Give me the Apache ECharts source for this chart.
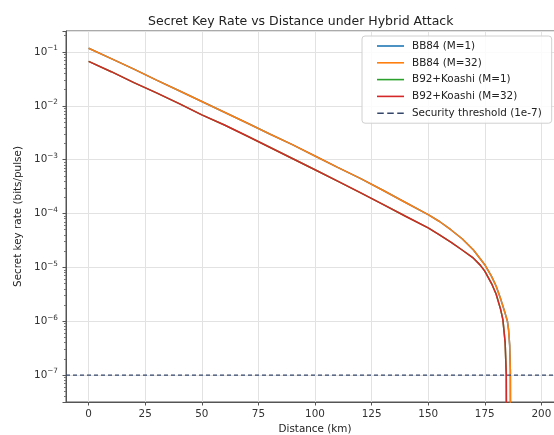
<!DOCTYPE html>
<html><head><meta charset="utf-8">
<script src="https://cdn.jsdelivr.net/npm/echarts@6/dist/echarts.min.js"></script>
<style>html,body{margin:0;padding:0;background:#fff}#c{width:554px;height:435px}</style>
</head><body><div id="c"></div>
<script>
// Distances (km) and secret key rates (bits/pulse)
var bb84Dist = [0,10,20,30,40,50,60,70,80,90,100,110,120,130,140,150,155,160,165,170,175,178,180,182,184,185,185.5,186,186.3,186.5];
var bb84Rate = [1.17e-1,7.5e-2,4.8e-2,3.0e-2,1.9e-2,1.2e-2,7.6e-3,4.8e-3,3.0e-3,1.9e-3,1.17e-3,7.2e-4,4.5e-4,2.7e-4,1.6e-4,9.5e-5,7.1e-5,5.0e-5,3.4e-5,2.1e-5,1.12e-5,6.8e-6,4.5e-6,2.6e-6,1.4e-6,1.0e-6,7.0e-7,3.6e-7,1.2e-7,1e-10];
var b92Dist = [0,10,20,30,40,50,60,70,80,90,100,110,120,130,140,150,155,160,165,170,173,175,178,180,182,183,184,184.5,184.7];
var b92Rate = [6.7e-2,4.3e-2,2.7e-2,1.74e-2,1.1e-2,6.8e-3,4.4e-3,2.75e-3,1.7e-3,1.05e-3,6.5e-4,4.0e-4,2.45e-4,1.48e-4,8.9e-5,5.4e-5,4.0e-5,2.95e-5,2.1e-5,1.48e-5,1.1e-5,8.5e-6,5.0e-6,3.2e-6,1.66e-6,1.07e-6,4.0e-7,1.0e-7,1e-10];
var seriesNames = ['BB84 (M=1)','BB84 (M=32)','B92+Koashi (M=1)','B92+Koashi (M=32)','Security threshold (1e-7)'];
var seriesColors = ['#1f77b4','#ff7f0e','#2ca02c','#d62728','#34466a'];
var threshold = 1e-7;
var xMin = -10, xMax = 210;
var xTicks = [0,25,50,75,100,125,150,175,200];

function pairs(xs, ys){ return xs.map(function(x,i){ return [x, ys[i]]; }); }
var datasets = [pairs(bb84Dist,bb84Rate), pairs(bb84Dist,bb84Rate), pairs(b92Dist,b92Rate), pairs(b92Dist,b92Rate)];

var chart = echarts.init(document.getElementById('c'), null, {renderer:'canvas'});
var font = 'DejaVu Sans';
var solidIcon = 'path://M0,0H27V1.6H0Z';
var dashIcon = 'path://M0,0H6.5V1.6H0Z M10,0H16.5V1.6H10Z M20,0H26.5V1.6H20Z';
var series = datasets.map(function(d,i){
  return {name: seriesNames[i], type:'line', data:d, symbol:'none', clip:true,
    lineStyle:{color:seriesColors[i], width:1.5}, itemStyle:{color:seriesColors[i]}, z: 3+i};
});
// horizontal threshold line spanning the whole x range
series.push({name: seriesNames[4], type:'line', data:[[xMin, threshold],[xMax, threshold]], symbol:'none', z:10,
  lineStyle:{color:seriesColors[4], width:1.2, type:[4,3]}, itemStyle:{color:seriesColors[4]}});

chart.setOption({
  animation:false,
  backgroundColor:'#fff',
  title:{text:'Secret Key Rate vs Distance under Hybrid Attack', left:143, top:10,
    textStyle:{fontFamily:font, fontSize:12.5, fontWeight:'normal', color:'#222'}},
  grid:{left:66, top:31, right:-10, bottom:33, show:true, borderColor:'#555', borderWidth:1, outerBoundsMode:'none', containLabel:false},
  legend:{orient:'vertical', left:362, top:36, itemWidth:27, itemHeight:1.6, itemGap:6.8,
    backgroundColor:'rgba(255,255,255,0.85)', borderColor:'#d0d0d0', borderWidth:1, borderRadius:3,
    padding:[5,10,5,15],
    textStyle:{fontFamily:font, fontSize:10.4, color:'#222', padding:[0,0,0,3]},
    data: seriesNames.map(function(n,i){ return {name:n, icon: i===4 ? dashIcon : solidIcon, itemStyle:{color:seriesColors[i]}}; })},
  xAxis:{type:'value', min:xMin, max:xMax,
    name:'Distance (km)', nameLocation:'middle', nameGap:19,
    nameTextStyle:{fontFamily:font, fontSize:10.4, color:'#222'},
    axisLine:{show:true, onZero:false, lineStyle:{color:'#555'}},
    axisTick:{show:true, length:3.5, customValues:xTicks, lineStyle:{color:'#555'}},
    axisLabel:{fontFamily:font, fontSize:10.4, color:'#333', margin:7, customValues:xTicks},
    splitLine:{show:true, lineStyle:{color:'#e2e2e2', width:1}}},
  yAxis:{type:'log', logBase:10, min:3.16e-8, max:0.245,
    name:'Secret key rate (bits/pulse)', nameLocation:'middle', nameGap:36,
    nameTextStyle:{fontFamily:font, fontSize:10.4, color:'#222'},
    axisLine:{show:true, onZero:false, lineStyle:{color:'#555'}},
    axisTick:{show:true, length:3.5, lineStyle:{color:'#555'}},
    minorTick:{show:true, splitNumber:9, length:2, lineStyle:{color:'#777'}},
    axisLabel:{fontFamily:font, fontSize:10.4, color:'#333', margin:8, showMinLabel:false, showMaxLabel:false,
      formatter:function(v){ var e=Math.round(Math.log(v)/Math.LN10); return '10{s|\u2212'+Math.abs(e)+'}'; },
      rich:{s:{fontFamily:font, fontSize:7.3, color:'#333', padding:[0,0,7,0]}}},
    splitLine:{show:true, lineStyle:{color:'#e2e2e2', width:1}}},
  series: series
});
</script></body></html>
